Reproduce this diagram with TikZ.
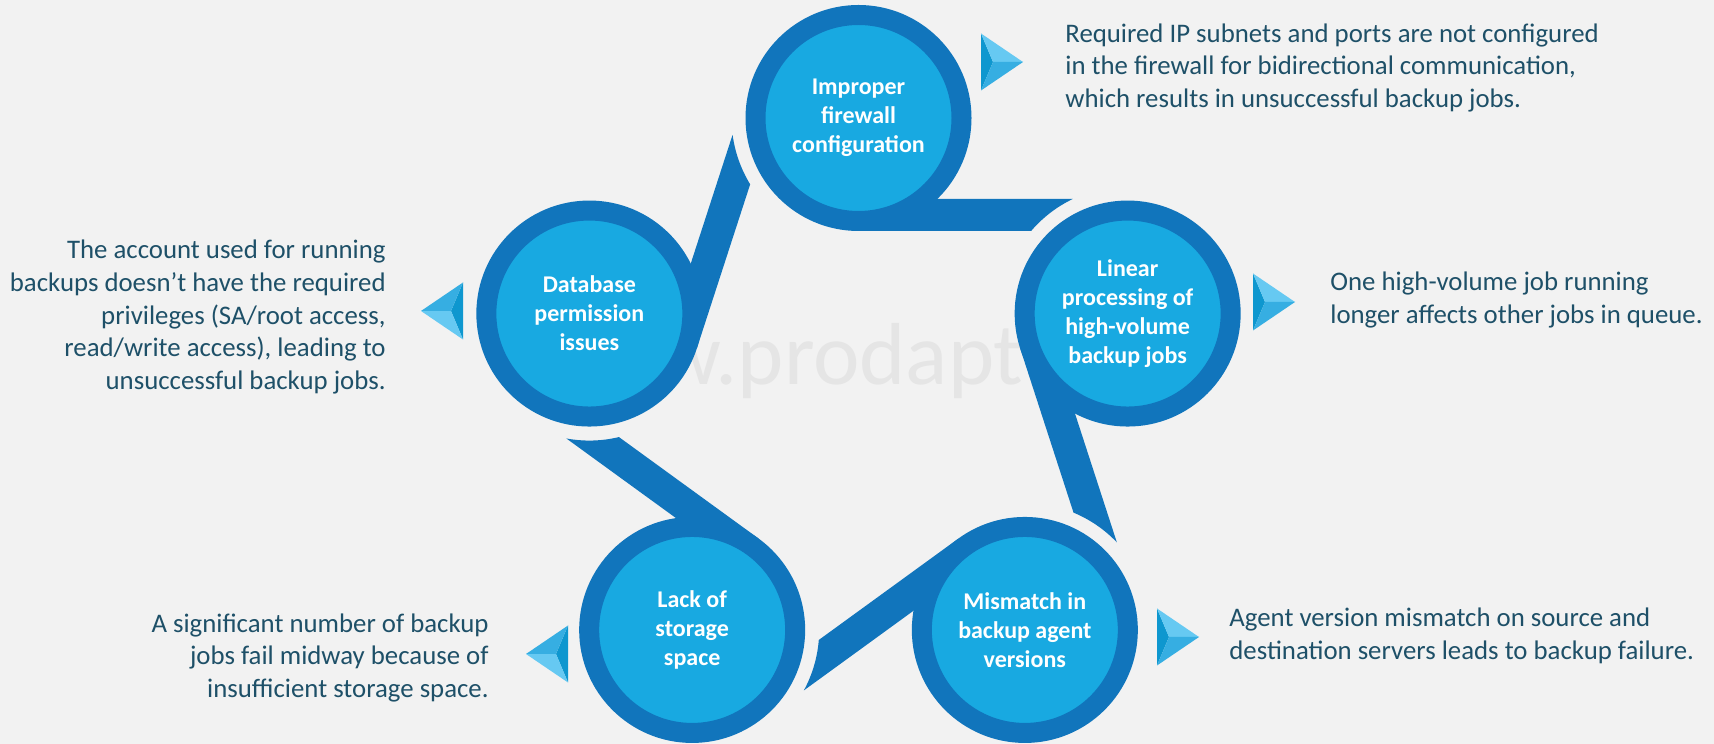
\documentclass[tikz,border=0pt]{standalone}
\usepackage{fontspec}
\setmainfont{Carlito}
\definecolor{paper}{HTML}{F2F2F2}
\definecolor{ringblue}{HTML}{1175BC}
\definecolor{coreblue}{HTML}{18A9E1}
\definecolor{notecolor}{HTML}{1E5068}
\definecolor{markcolor}{HTML}{E5E5E5}
\definecolor{tiplight}{HTML}{66C9F2}
\definecolor{tipmid}{HTML}{36AEE2}
\definecolor{tipdark}{HTML}{0E97CF}
\begin{document}
\begin{tikzpicture}[x=0.5pt, y=0.5pt,
  issue/.style = {circle, draw=ringblue, line width=10pt, fill=coreblue, minimum size=103pt, inner sep=0pt, align=center, text=white, font=\fontsize{12}{14.5}\selectfont\bfseries},
  note/.style = {inner sep=0pt, text=notecolor, font=\fontsize{13.4}{16.4}\selectfont},
  pointer/.pic = {
    \fill[tipdark] (0,28.5) -- (12,0) -- (0,-28.5) -- cycle;
    \fill[tiplight] (0,28.5) -- (42,0) -- (12,0) -- cycle;
    \fill[tipmid] (12,0) -- (42,0) -- (0,-28.5) -- cycle;
  }]
  \fill[paper] (0,0) rectangle (1714,744);
  \useasboundingbox (0,0) rectangle (1714,744);
  \node[anchor=base west, inner sep=0pt, text=markcolor, font=\fontsize{44}{44}\selectfont] (mark) at (658,359) {w.prodapt};
  \begin{scope}[shift={(858.5,343)}]
    \foreach \a in {0,72,...,288}
      \fill[ringblue, rotate=\a] (0,170) -- (172.6,170) arc[start angle=139.47, end angle=115.58, radius=127] -- (0,202) -- cycle;
    \node[issue] (firewall) at (90:283) {Improper\\firewall\\configuration};
    \node[issue] (linear) at (18:283) {Linear\\processing of\\high-volume\\backup jobs};
    \node[issue] (mismatch) at (-54:283) {Mismatch in\\backup agent\\versions};
    \node[issue] (storage) at (-126:283) {Lack of\\storage\\space};
    \node[issue] (database) at (162:283) {Database\\permission\\issues};
  \end{scope}
  \pic at (981,682) {pointer};
  \pic at (1253,442) {pointer};
  \pic at (1157,107) {pointer};
  \pic[rotate=180] at (463,433) {pointer};
  \pic[rotate=180] at (568,90) {pointer};
  \node[note, anchor=west, align=left] (firewallnote) at (1065,676) {Required IP subnets and ports are not configured\\in the firewall for bidirectional communication,\\which results in unsuccessful backup jobs.};
  \node[note, anchor=west, align=left] (linearnote) at (1330,444) {One high-volume job running\\longer affects other jobs in queue.};
  \node[note, anchor=west, align=left] (mismatchnote) at (1229,108) {Agent version mismatch on source and\\destination servers leads to backup failure.};
  \node[note, anchor=east, align=right] (databasenote) at (386,427) {The account used for running\\backups doesn’t have the required\\privileges (SA/root access,\\read/write access), leading to\\unsuccessful backup jobs.};
  \node[note, anchor=east, align=right] (storagenote) at (489,86) {A significant number of backup\\jobs fail midway because of\\insufficient storage space.};
\end{tikzpicture}
\end{document}
